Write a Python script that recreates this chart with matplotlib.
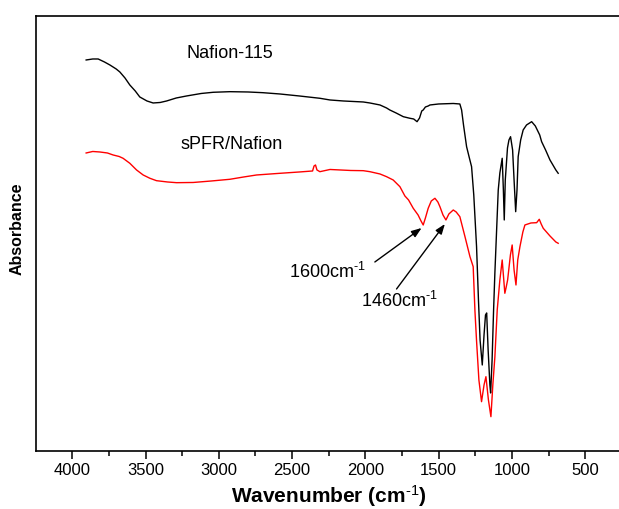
import matplotlib
matplotlib.use("Agg")
import matplotlib.pyplot as plt
import numpy as np

plt.rcParams['font.family'] = ['Liberation Sans', 'DejaVu Sans']
plt.rcParams['mathtext.fontset'] = 'custom'
plt.rcParams['mathtext.rm'] = 'Liberation Sans'
plt.rcParams['mathtext.bf'] = 'Liberation Sans:bold'
plt.rcParams['mathtext.default'] = 'regular'

# Nafion-115 spectrum (wavenumber cm-1, absorbance a.u.)
nafion_wn = [3905, 3860, 3823, 3780, 3743, 3700, 3675, 3640, 3607, 3570, 3539, 3490,
             3448, 3400, 3356, 3290, 3220, 3120, 3038, 2924, 2800, 2700, 2583, 2450,
             2310, 2241, 2150, 2014, 1969, 1900, 1855, 1833, 1790, 1741, 1696, 1670,
             1647, 1630, 1615, 1605, 1590, 1571, 1559, 1500, 1400, 1355, 1343, 1330,
             1309, 1290, 1275, 1260, 1241, 1228, 1217, 1202, 1190, 1180, 1172, 1162,
             1150, 1145, 1135, 1125, 1116, 1093, 1082, 1066, 1058, 1052, 1045, 1030,
             1020, 1009, 995, 985, 974, 965, 957, 940, 923, 900, 865, 840, 810, 797,
             770, 740, 700, 684]
nafion_abs = [391, 392, 392, 389, 386, 382, 379, 373, 366, 360, 354, 350,
              348, 348.5, 350, 353, 355, 357.5, 358.7, 359.3, 359, 358.3, 357, 355,
              352.7, 351, 350, 349, 348, 346, 343, 341, 338, 334.3, 332.7, 332,
              329.3, 333, 340, 341, 344, 345, 346, 347, 347.5, 347, 341, 326,
              304.3, 293, 284.3, 256, 204.3, 151, 111, 86, 116, 136, 138, 101,
              66, 58, 91, 140, 178, 261, 278, 292.7, 261, 231, 271, 303,
              311, 314.3, 301, 271, 239.3, 261, 294.3, 311, 321, 326, 329.3, 325, 316, 309.3,
              301, 291, 281, 277.7]

# sPFR/Nafion spectrum
spfr_wn = [3905, 3860, 3812, 3760, 3721, 3680, 3653, 3607, 3561, 3516, 3470, 3425,
           3350, 3288, 3175, 3050, 2924, 2830, 2742, 2600, 2450, 2360, 2350, 2340,
           2330, 2310, 2241, 2100, 2014, 1969, 1900, 1855, 1810, 1764, 1730, 1705,
           1673, 1640, 1620, 1605, 1590, 1571, 1550, 1525, 1505, 1491, 1470, 1450,
           1430, 1400, 1380, 1355, 1320, 1286, 1264, 1252, 1241, 1225, 1207, 1190,
           1177, 1160, 1143, 1130, 1116, 1100, 1082, 1066, 1058, 1048, 1040, 1029,
           1010, 998, 985, 972, 960, 945, 925, 911, 870, 831, 813, 800, 786, 740,
           700, 684]
spfr_abs = [298, 299.5, 299, 298, 296, 294.5, 292.7, 287.7, 281, 276, 272.7, 270.3,
            269, 268.3, 268.5, 270, 271.7, 274, 276, 277.5, 279, 280, 285, 286,
            281, 279.3, 281.5, 280.5, 280.3, 279.3, 277, 274.3, 271, 264.3, 255, 251,
            242.7, 236, 230, 226, 233, 242.7, 250, 252.7, 249, 244.3, 236, 231,
            237, 241, 239, 234.3, 214.3, 194.3, 184.3, 140, 110, 71, 49.3, 66,
            74.3, 51, 34.3, 66, 94, 141, 171, 191, 176, 157.7, 163, 171,
            196, 206, 181, 166, 191, 204.3, 219, 226, 228, 228.3, 231.7, 227, 222.7, 215,
            209, 207.7]

xticks = [4000, 3500, 3000, 2500, 2000, 1500, 1000, 500]


def build(fancy):
    fig = plt.figure(figsize=(6.19, 5.09), dpi=100)
    ax = fig.add_axes([0.0575, 0.114, 0.947, 0.8546])

    ax.plot(nafion_wn, nafion_abs, color='black', lw=1.0)
    ax.plot(spfr_wn, spfr_abs, color='#ff0000', lw=1.0)

    ax.set_xlim(4250, 250)
    ax.set_ylim(0, 435)
    ax.set_xticks(xticks)
    ax.set_xticks(np.arange(3750, 250, -500), minor=True)
    ax.set_yticks([])
    ax.tick_params(axis='x', which='major', direction='out', length=6, width=1.1,
                   labelsize=12, pad=3)
    ax.tick_params(axis='x', which='minor', direction='out', length=3.5, width=1.1)
    for s in ax.spines.values():
        s.set_linewidth(1.2)

    if fancy:
        sup_b = r'$^{\mathbf{\text{-1}}}$'
        sup = r'$^{\text{-1}}$'
    else:
        sup_b = r'$^{\mathbf{-1}}$'
        sup = r'$^{-1}$'
    ax.set_xlabel('Wavenumber (cm' + sup_b + ')', fontsize=15, fontweight='bold', labelpad=3)
    ax.set_ylabel('Absorbance', fontsize=11.5, fontweight='bold', labelpad=6)
    ax.yaxis.set_label_coords(-0.018, 0.51)

    ax.text(2924, 397.5, 'Nafion-115', fontsize=13, ha='center', va='center')
    ax.text(2913, 306, 'sPFR/Nafion', fontsize=13, ha='center', va='center')

    arrow = dict(arrowstyle='-|>,head_length=0.6,head_width=0.22', color='black', lw=1.0,
                 shrinkA=0, shrinkB=0)
    ax.annotate('', xy=(1616, 223), xytext=(1935, 189), arrowprops=arrow)
    ax.annotate('', xy=(1457, 227), xytext=(1787, 162), arrowprops=arrow)
    ax.text(2256, 179, '1600cm' + sup, fontsize=13, ha='center', va='center')
    ax.text(1765, 150, '1460cm' + sup, fontsize=13, ha='center', va='center')
    fig.savefig('out.png', dpi=100)
    plt.close(fig)


try:
    build(True)
except Exception:
    plt.close('all')
    build(False)
